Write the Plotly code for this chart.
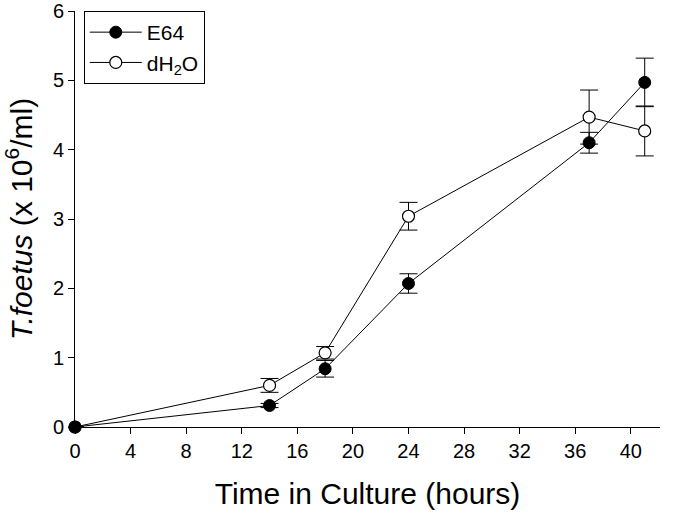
import plotly.graph_objects as go

hours = [0, 14, 18, 24, 37, 41]

e64 = [0, 0.31, 0.84, 2.07, 4.10, 4.97]
e64_err = [0, 0.03, 0.12, 0.14, 0.15, 0.35]

water = [0, 0.60, 1.07, 3.04, 4.47, 4.27]
water_err = [0, 0.10, 0.09, 0.20, 0.39, 0.36]

x_ticks = list(range(0, 41, 4))
y_ticks = list(range(0, 7))

fig = go.Figure()

fig.add_trace(go.Scatter(
    x=hours, y=water, name="dH<sub>2</sub>O", mode="lines+markers",
    line=dict(color="black", width=1),
    marker=dict(symbol="circle", size=12, color="white",
                line=dict(color="black", width=1.2)),
    error_y=dict(type="data", array=water_err, color="black",
                 thickness=1, width=9),
    cliponaxis=False,
))

fig.add_trace(go.Scatter(
    x=hours, y=e64, name="E64", mode="lines+markers",
    line=dict(color="black", width=1),
    marker=dict(symbol="circle", size=12, color="black",
                line=dict(color="black", width=1)),
    error_y=dict(type="data", array=e64_err, color="black",
                 thickness=1, width=9),
    cliponaxis=False,
))

fig.update_layout(
    width=676, height=514,
    margin=dict(l=75, r=16, t=11, b=87, autoexpand=False),
    paper_bgcolor="white", plot_bgcolor="white",
    font=dict(family="Liberation Sans, Arial", size=20, color="black"),
    showlegend=True,
    legend=dict(
        x=0.015, y=1, xanchor="left", yanchor="top",
        bordercolor="black", borderwidth=1, bgcolor="white",
        font=dict(size=21), traceorder="reversed",
        tracegroupgap=0, itemwidth=52,
        entrywidth=140, entrywidthmode="pixels",
    ),
)

fig.update_xaxes(
    range=[0, 42.1], tickvals=x_ticks, ticks="outside", ticklen=6,
    tickcolor="black", showline=True, linecolor="black", linewidth=1,
    showgrid=False, zeroline=False, automargin=False,
    title=dict(text="Time in Culture (hours)", font=dict(size=30), standoff=21),
)

fig.update_yaxes(
    range=[0, 6], tickvals=y_ticks, ticks="outside", ticklen=6,
    tickcolor="black", showline=True, linecolor="black", linewidth=1,
    showgrid=False, zeroline=False, automargin=False,
    ticklabeloverflow="allow",
    title=dict(text="<i>T.foetus</i> (x 10<sup>6</sup>/ml)",
               font=dict(size=30), standoff=11),
)

# the page body has an 8px margin by default, drop it so the chart sits at 0,0
fig.write_html("out.html", config={"displayModeBar": False},
               post_script="document.body.style.margin='0';")
